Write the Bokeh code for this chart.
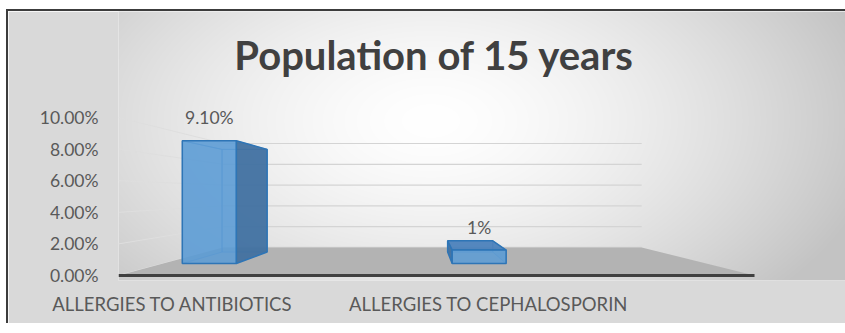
import numpy as np
from bokeh.plotting import figure
from bokeh.models import FixedTicker, PrintfTickFormatter, Range1d, Label
from bokeh.embed import file_html
from bokeh.resources import INLINE
from bokeh.core.properties import value

# ---------------- data ----------------
categories = ["ALLERGIES TO ANTIBIOTICS", "ALLERGIES TO CEPHALOSPORIN"]
values = [9.10, 1.0]            # percent
value_labels = ["9.10%", "1%"]
y_ticks = [0, 2, 4, 6, 8, 10]
title_text = "Population of 15 years"

# ---------------- 3D look (style) ----------------
VPX, VPY = 0.7975, 5.19        # vanishing point in data space
S_WALL, S_FRONT, S_BACK = 0.658, 0.854, 0.714
HALF_W = 0.1
WALL_L, WALL_R = -0.1709, 1.8418
X0, X1, Y0, Y1 = -0.1709, 2.1297, -0.3165, 16.709


def P(x, y, s):
    return VPX + (x - VPX) * s, VPY + (y - VPY) * s


p = figure(frame_width=727, frame_height=269, output_backend="svg", toolbar_location=None,
           x_range=Range1d(X0, X1), y_range=Range1d(Y0, Y1),
           min_border_left=110, min_border_right=0, min_border_top=0,
           min_border_bottom=43)
p.styles = {"margin-left": "6px", "margin-top": "9px",
            "border-left": "2px solid #3c3c3c", "border-top": "2px solid #3c3c3c"}
p.outline_line_color = None
p.border_fill_color = "#d9d9d9"
p.background_fill_color = "#e6e6e6"
p.xgrid.grid_line_color = None
p.ygrid.grid_line_color = None

# background radial gradient (decoration)
nx, ny = 727, 269
px = np.arange(nx) + 118.0
py = np.arange(ny)[::-1] + 11.0
X, Y = np.meshgrid(px, py)
d = np.sqrt(((X - 430) / 430.0) ** 2 + ((Y - 120) / 250.0) ** 2)
g = np.clip(255 - 55 * d ** 1.5, 195, 255).astype(np.uint32)
img = (255 << 24) | (g << 16) | (g << 8) | g
p.image_rgba(image=[img.astype(np.uint32)], x=X0, y=Y0, dw=X1 - X0, dh=Y1 - Y0)

# walls gridlines
bx0, _ = P(WALL_L, 0, S_WALL)
bx1, _ = P(WALL_R, 0, S_WALL)
gy = [P(0, t, S_WALL)[1] for t in y_ticks]
p.segment(x0=[bx0] * len(gy), y0=gy, x1=[bx1] * len(gy), y1=gy,
          line_color="#d4d4d4", line_width=1.2)
p.segment(x0=[WALL_L] * len(y_ticks), y0=y_ticks, x1=[bx0] * len(gy), y1=gy,
          line_color="#dedede", line_width=1)

# floor
fl = [P(WALL_L, 0, 1), P(WALL_R, 0, 1), P(WALL_R, 0, S_WALL), P(WALL_L, 0, S_WALL)]
p.patch([q[0] for q in fl], [q[1] for q in fl], fill_color="#b3b3b3", line_color=None)
p.line([fl[0][0], fl[1][0]], [fl[0][1], fl[1][1]], line_color="#404040", line_width=3)


# bars
def faces(c, v):
    x0, x1, y0, y1 = c - HALF_W, c + HALF_W, 0.0, v
    def quad(pts):
        return [q[0] for q in pts], [q[1] for q in pts]
    f = {
        "back": quad([P(x0, y0, S_BACK), P(x1, y0, S_BACK), P(x1, y1, S_BACK), P(x0, y1, S_BACK)]),
        "front": quad([P(x0, y0, S_FRONT), P(x1, y0, S_FRONT), P(x1, y1, S_FRONT), P(x0, y1, S_FRONT)]),
        "left": quad([P(x0, y0, S_FRONT), P(x0, y1, S_FRONT), P(x0, y1, S_BACK), P(x0, y0, S_BACK)]),
        "right": quad([P(x1, y0, S_FRONT), P(x1, y1, S_FRONT), P(x1, y1, S_BACK), P(x1, y0, S_BACK)]),
        "top": quad([P(x0, y1, S_FRONT), P(x1, y1, S_FRONT), P(x1, y1, S_BACK), P(x0, y1, S_BACK)]),
    }
    vis = {"right": x1 < VPX, "left": x0 > VPX, "top": y1 < VPY}
    return f, vis


hid_x, hid_y = [], []
side_x, side_y = [], []
top_x, top_y = [], []
fr_x, fr_y = [], []
for i, v in enumerate(values):
    f, vis = faces(i, v)
    hid_x.append(f["back"][0]); hid_y.append(f["back"][1])
    for k in ("left", "right", "top"):
        if vis[k]:
            if k == "top":
                top_x.append(f[k][0]); top_y.append(f[k][1])
            else:
                side_x.append(f[k][0]); side_y.append(f[k][1])
        else:
            hid_x.append(f[k][0]); hid_y.append(f[k][1])
    fr_x.append(f["front"][0]); fr_y.append(f["front"][1])

p.patches(hid_x, hid_y, fill_color="#5b9bd5", fill_alpha=0.25,
          line_color="#4a86c5", line_alpha=0.6, line_width=1)
p.patches(side_x, side_y, fill_color="#3f6f9f", fill_alpha=0.92,
          line_color="#2e75b6", line_width=1.5)
p.patches(top_x, top_y, fill_color="#4a80bb", fill_alpha=0.92,
          line_color="#2e75b6", line_width=1.5)
p.patches(fr_x, fr_y, fill_color="#5b9bd5", fill_alpha=0.85,
          line_color="#2e75b6", line_width=1.5)

# data labels
lab_x = [P(i, v, S_FRONT)[0] for i, v in enumerate(values)]
lab_y = [P(i, v, S_FRONT)[1] for i, v in enumerate(values)]
p.text(x=lab_x, y=lab_y, text=value_labels, text_align="center",
       text_baseline="middle", y_offset=-23, text_font=value("Lato"),
       text_font_size="17.5px", text_color="#595959")

# title
p.add_layout(Label(x=0.829, y=13.95, text=title_text, text_align="center",
                   text_baseline="middle", text_font="Lato", text_font_style="bold",
                   text_font_size="40px", text_color="#404040"))

# axes
p.yaxis.ticker = FixedTicker(ticks=y_ticks)
p.yaxis.formatter = PrintfTickFormatter(format="%.2f%%")
p.yaxis.axis_line_color = None
p.yaxis.major_tick_line_color = None
p.yaxis.minor_tick_line_color = None
p.yaxis.major_label_standoff = 14
p.yaxis.major_label_text_font = "Lato"
p.yaxis.major_label_text_font_size = "17.5px"
p.yaxis.major_label_text_color = "#595959"

p.xaxis.ticker = FixedTicker(ticks=[0, 1])
p.xaxis.major_label_overrides = {0: categories[0], 1: categories[1]}
p.xaxis.axis_line_color = None
p.xaxis.major_tick_line_color = None
p.xaxis.minor_tick_line_color = None
p.xaxis.major_label_standoff = 6
p.xaxis.major_label_text_font = "Lato"
p.xaxis.major_label_text_font_size = "18.5px"
p.xaxis.major_label_text_color = "#595959"

open("out.html", "w").write(file_html(p, INLINE))
